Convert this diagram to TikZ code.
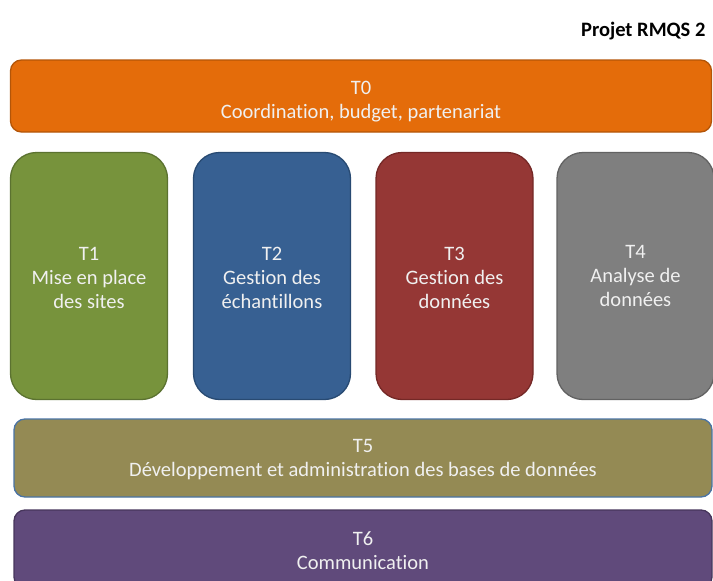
\documentclass[tikz,border=0pt]{standalone}
\usepackage{fontspec}
\setmainfont{Carlito}[Ligatures=NoCommon]
\usepackage{tikz}
\usetikzlibrary{positioning}

\definecolor{orangeT}{HTML}{E46C0A}
\definecolor{orangeB}{HTML}{B35508}
\definecolor{vertT}{HTML}{77933C}
\definecolor{vertB}{HTML}{5B7230}
\definecolor{bleuT}{HTML}{376092}
\definecolor{bleuB}{HTML}{284A72}
\definecolor{rougeT}{HTML}{953735}
\definecolor{rougeB}{HTML}{742826}
\definecolor{grisT}{HTML}{7F7F7F}
\definecolor{grisB}{HTML}{626262}
\definecolor{kakiT}{HTML}{948A54}
\definecolor{kakiB}{HTML}{4A73A4}
\definecolor{violetT}{HTML}{604A7B}
\definecolor{violetB}{HTML}{47365C}

% shifted multi-line label (box keeps its size)
\newcommand{\lignes}[2]{\raisebox{#1}[\height][\depth]{\begin{tabular}{@{}c@{}}#2\end{tabular}}}

\begin{document}
\begin{tikzpicture}[
            x=1pt, y=-1pt,
            tache/.style={draw, line width=1.3pt, text=white!94!black, align=center,
                          inner sep=0pt, font=\fontsize{20.5}{24}\selectfont}, % every task box
            bande/.style={tache, rounded corners=11pt, minimum height=74pt}, % wide boxes
            colonne/.style={tache, rounded corners=26pt, minimum width=157pt, minimum height=247pt} % tall boxes
            ]
        \useasboundingbox (0,0) rectangle (713,581);
        \clip (0,0) rectangle (713,581);

        % Title
        \node[anchor=east, font=\fontsize{20.5}{24}\selectfont\bfseries] (titre) at (709,31) {Projet RMQS 2};

        % Top band
        \node[bande, fill=orangeT, draw=orangeB, minimum width=701pt, minimum height=72pt] (t0) at (361,96)
            {\lignes{-6pt}{T0\\Coordination, budget, partenariat}};

        % Four columns
        \node[colonne, fill=vertT, draw=vertB] (t1) at (89,276) {\lignes{-3.5pt}{T1\\Mise en place\\des sites}};
        \node[colonne, fill=bleuT, draw=bleuB] (t2) at (272,276) {\lignes{-3.5pt}{T2\\Gestion des\\échantillons}};
        \node[colonne, fill=rougeT, draw=rougeB] (t3) at (454.5,276) {\lignes{-3.5pt}{T3\\Gestion des\\données}};
        \node[colonne, fill=grisT, draw=grisB] (t4) at (635.5,276) {\lignes{-2pt}{T4\\Analyse de\\données}};

        % Bottom bands
        \node[bande, fill=kakiT, draw=kakiB, minimum width=698pt, minimum height=78pt] (t5) at (363,458)
            {\lignes{-2pt}{T5\\Développement et administration des bases de données}};
        \node[bande, fill=violetT, draw=violetB, minimum width=698pt, minimum height=78pt] (t6) at (363,549)
            {\lignes{-4pt}{T6\\Communication}};

    \end{tikzpicture}
\end{document}
